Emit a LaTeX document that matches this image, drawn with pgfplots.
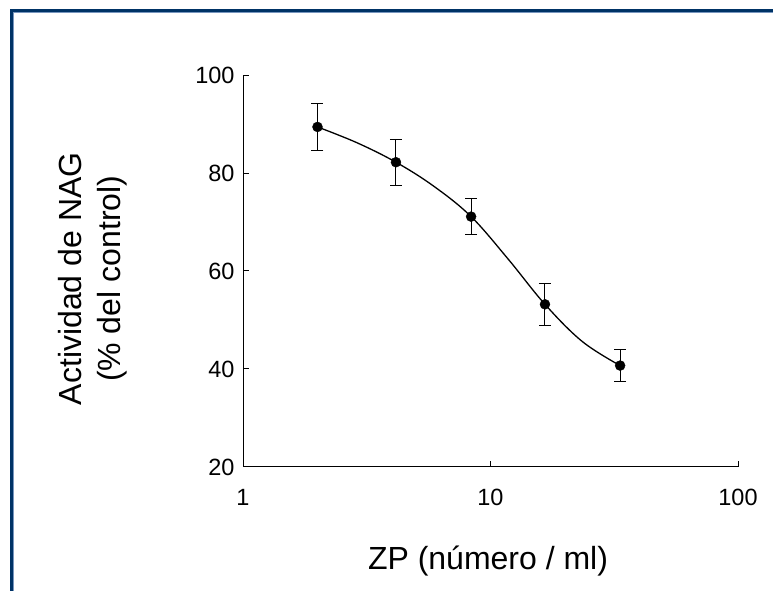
\documentclass[border=0pt]{standalone}
\usepackage{pgfplots}
\pgfplotsset{compat=1.18}
\usepackage{fontspec}
\setmainfont{Liberation Sans}
\definecolor{frameblue}{RGB}{0,51,102}
\definecolor{framelight}{RGB}{120,150,190}
\begin{document}
\begin{tikzpicture}[x=1pt,y=1pt]
\clip (0,0) rectangle (773,591);
\fill[white] (0,0) rectangle (773,591);
\draw[frameblue, line width=3pt] (11.3,-10) -- (11.3,580.7) -- (790,580.7);
\draw[framelight, line width=0.8pt] (13.8,-10) -- (13.8,578.2) -- (790,578.2);
\begin{axis}[
  at={(243pt,124pt)}, anchor=south west,
  width=495pt, height=392pt, scale only axis,
  xmode=log, xmin=1, xmax=100, ymin=20, ymax=100,
  axis lines*=left,
  axis line style={line width=1pt, black},
  xtick={1,10,100}, xticklabels={1,10,100},
  ytick={20,40,60,80,100},
  xminorticks=false,
  tick align=inside,
  major tick length=6pt,
  tick style={black, line width=1pt},
  /pgf/number format/assume math mode=true,
  ticklabel style={font=\fontsize{23.5}{28}\selectfont},
  xticklabel style={yshift=-19pt},
  yticklabel style={xshift=-5pt},
  xlabel={ZP (número / ml)},
  xlabel style={font=\fontsize{32}{38}\selectfont, at={(axis description cs:0.495,-0.2615)}, anchor=base},
  ylabel={Actividad de NAG\\(\% del control)},
  ylabel style={font=\fontsize{32}{38.7}\selectfont, align=center, at={(axis description cs:-0.303,0.48)}, anchor=center},
  clip=false,
]
\addplot[black, line width=1.3pt, smooth, tension=0.6, no marks] coordinates {
  (2.0,89.4) (2.88,86.2) (4.15,82.2) (5.9,77.3) (8.35,71.1) (11.8,62.4) (16.6,53.2) (23.5,45.6) (33.4,40.7)
};
\addplot[black, only marks, mark=*, mark size=5pt,
  error bars/.cd, y dir=both, y explicit,
  error bar style={line width=1pt, black},
  error mark options={rotate=90, mark size=6pt, line width=1pt, black}]
  coordinates {
  (2.0,89.4) +- (0,4.8)
  (4.15,82.2) +- (0,4.7)
  (8.35,71.1) +- (0,3.7)
  (16.6,53.2) +- (0,4.3)
  (33.4,40.7) +- (0,3.2)
};
\end{axis}
\end{tikzpicture}
\end{document}
